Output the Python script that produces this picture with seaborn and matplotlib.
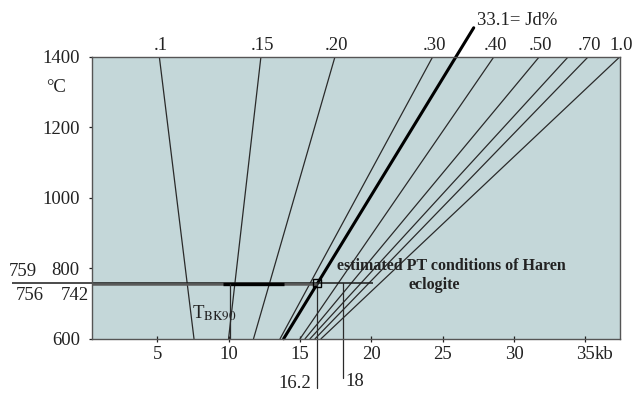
import numpy as np
import pandas as pd
import matplotlib
matplotlib.use("Agg")
import matplotlib.pyplot as plt
import seaborn as sns

# ---------- DATA ----------
# iso-Jd lines: pressure (kb) where each line meets 600 and 1400 C
JD_NAMES = ["0.10", "0.15", "0.20", "0.30", "0.40", "0.50", "0.60", "0.70", "1.0"]
JD_LABELS = [".1", ".15", ".20", ".30", ".40", ".50", "", ".70", "1.0"]
KB_AT_600 = [7.57, 9.99, 11.74, 13.6, 15.0, 15.35, 15.7, 16.05, 16.47]
KB_AT_1400 = [5.14, 12.26, 17.45, 24.3, 28.59, 31.77, 33.8, 35.2, 37.42]

# the bold 33.1 Jd% line (runs past the top frame)
JD331_KB = [13.85, 25.93, 27.17]
JD331_T = [600, 1400, 1482]

# horizontal temperature lines
H_T = [759, 756, 756]
H_KB_FROM = [-5.2, 0.4, 9.6]
H_KB_TO = [20.1, 16.2, 13.85]

# vertical pressure drop lines
V_KB = [10.1, 16.2, 18.0]
V_T_TOP = [756, 759, 759]
V_T_BOTTOM = [600, 460, 489]

# estimated PT point
PT_KB = 16.2
PT_T = 759

X_TICKS = [5, 10, 15, 20, 25, 30, 35]
Y_TICKS = [600, 800, 1000, 1200, 1400]

# ---------- STYLE ----------
sns.set_theme(style="white")
plt.rcParams["font.family"] = ["Liberation Serif", "DejaVu Serif"]
plt.rcParams["mathtext.fontset"] = "stix"

BG = "#c4d7d9"
LINE = "#2a2a2a"
FS = 13.5

rows = []
for name, lo, hi in zip(JD_NAMES, KB_AT_600, KB_AT_1400):
    rows.append({"line": name, "kb": lo, "T": 600})
    rows.append({"line": name, "kb": hi, "T": 1400})
df = pd.DataFrame(rows)

fig = plt.figure(figsize=(6.42, 3.94), dpi=100)
ax = fig.add_axes([0.1428, 0.1401, 0.8229, 0.716])
ax.set_facecolor(BG)

sns.lineplot(data=df, x="kb", y="T", units="line", estimator=None, sort=False,
             color=LINE, lw=0.9, ax=ax)

# bold Jd 33.1 line
sns.lineplot(x=JD331_KB, y=JD331_T, sort=False, estimator=None,
             color="black", lw=2.2, ax=ax)
ax.lines[-1].set_clip_on(False)

# horizontal temperature lines
for t, a, b, lw, c in zip(H_T, H_KB_FROM, H_KB_TO, [1.1, 1.8, 2.4], ["#1a1a1a", "#5a5a5a", "black"]):
    ax.plot([a, b], [t, t], color=c, lw=lw, clip_on=False, solid_capstyle="butt")

# vertical lines
for k, t0, t1 in zip(V_KB, V_T_TOP, V_T_BOTTOM):
    ax.plot([k, k], [t0, t1], color=LINE, lw=0.9, clip_on=False)

# PT box
ax.plot([PT_KB], [PT_T], marker="s", ms=6, mfc="none", mec="black", mew=1.0)

ax.set_xlim(0.4, 37.42)
ax.set_ylim(600, 1400)
ax.set_xlabel("")
ax.set_ylabel("")

ax.set_xticks(X_TICKS)
ax.set_xticklabels([str(v) for v in X_TICKS])
ax.set_yticks(Y_TICKS)
ax.set_yticklabels([str(v) for v in Y_TICKS])
ax.tick_params(axis="x", bottom=True, direction="inout", length=5, width=0.9,
               pad=3, labelsize=FS, colors="#222222")
ax.tick_params(axis="y", left=True, direction="out", length=2.5, width=0.9,
               pad=6, labelsize=FS, colors="#222222")

for s in ax.spines.values():
    s.set_color("#555555")
    s.set_linewidth(1.0)

# labels at the top of the iso-Jd lines
for lab, k in zip(JD_LABELS, KB_AT_1400):
    if lab:
        ax.text(k + 0.1, 1432, lab, ha="center", va="center", fontsize=FS,
                color="#222222", clip_on=False)

ax.text(27.4, 1504, "33.1= Jd%", ha="left", va="center", fontsize=FS,
        color="#222222", clip_on=False)
ax.text(-2.1, 1314, "°C", ha="center", va="center", fontsize=FS, color="#222222",
        clip_on=False)
ax.annotate("kb", xy=(35, 600), xytext=(6.5, -5.5), textcoords="offset points",
            ha="left", va="top", fontsize=FS, color="#222222", annotation_clip=False)

# temperatures at left
ax.text(-4.45, 792, "759", ha="center", va="center", fontsize=FS, color="#222222", clip_on=False)
ax.text(-3.92, 724, "756", ha="center", va="center", fontsize=FS, color="#222222", clip_on=False)
ax.text(-0.77, 724, "742", ha="center", va="center", fontsize=FS, color="#222222", clip_on=False)

# pressures below
ax.annotate("16.2", xy=(16.2, 472), xytext=(-4, 0), textcoords="offset points",
            ha="right", va="center", fontsize=FS, color="#222222", annotation_clip=False)
ax.annotate("18", xy=(18.0, 480), xytext=(1.5, 0), textcoords="offset points",
            ha="left", va="center", fontsize=FS, color="#222222", annotation_clip=False)

ax.text(7.4, 672, r"T$_{\mathrm{BK90}}$", ha="left", va="center", fontsize=FS, color="#222222")

ax.text(17.6, 806, "estimated PT conditions of Haren", ha="left", va="center",
        fontsize=11.5, fontweight="bold", color="#222222")
ax.text(22.6, 753, "eclogite", ha="left", va="center",
        fontsize=11.5, fontweight="bold", color="#222222")

fig.savefig("out.png", dpi=100, facecolor="white")
